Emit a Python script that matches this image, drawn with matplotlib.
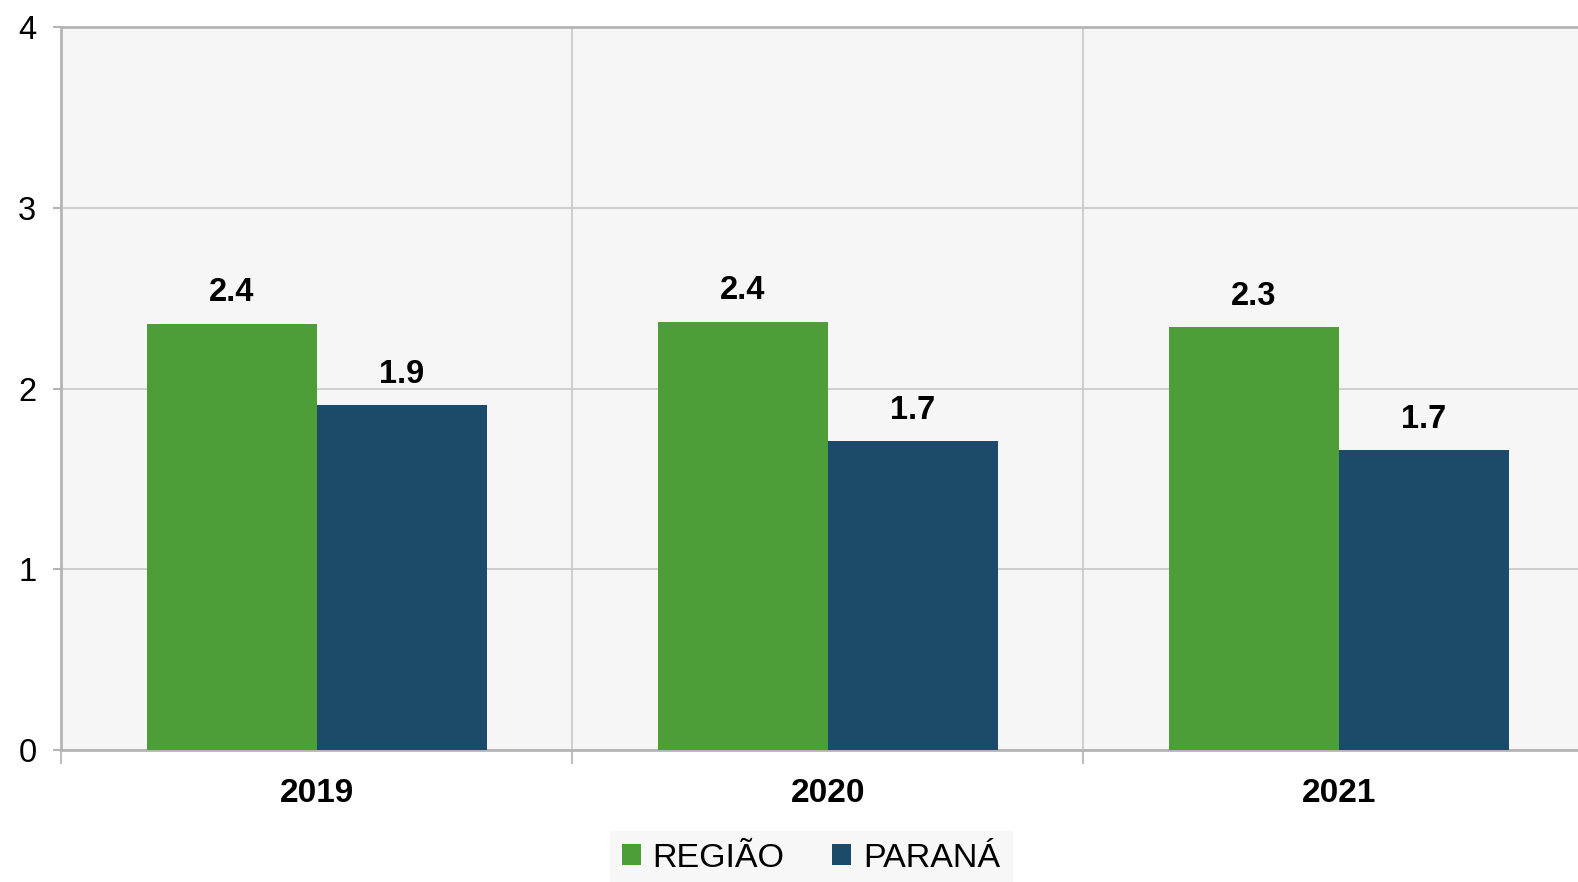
import matplotlib
matplotlib.use("Agg")
import matplotlib.pyplot as plt
import numpy as np

plt.rcParams['font.family'] = ['Liberation Sans', 'DejaVu Sans']

# data
years = ["2019", "2020", "2021"]
regiao = [2.36, 2.37, 2.34]
parana = [1.91, 1.71, 1.66]
series_names = ["REGIÃO", "PARANÁ"]
colors = ["#4d9e38", "#1c4a6b"]

fig = plt.figure(figsize=(15.78, 8.82), dpi=100)
ax = fig.add_axes([0.0389, 0.1497, 0.9611, 0.8195])
ax.set_facecolor("#f6f6f6")

x = np.arange(len(years))
w = 1 / 3
b1 = ax.bar(x - w / 2, regiao, w, color=colors[0], label=series_names[0], zorder=3)
b2 = ax.bar(x + w / 2, parana, w, color=colors[1], label=series_names[1], zorder=3)

for bars in (b1, b2):
    for rect in bars:
        h = rect.get_height()
        ax.annotate("%.1f" % h, (rect.get_x() + rect.get_width() / 2, h),
                    xytext=(0, 11), textcoords="offset points",
                    ha="center", va="bottom", fontsize=23.5, fontweight="bold")

ax.set_xlim(-0.5, 2.468)
ax.set_ylim(0, 4)
ax.set_yticks([0, 1, 2, 3, 4])
ax.tick_params(axis="y", labelsize=23.5, length=6, color="#b4b4b4", width=1.5, pad=12)

# category boundaries as ticks, year labels as minor ticks
ax.set_xticks([-0.5, 0.5, 1.5])
ax.set_xticklabels([])
ax.tick_params(axis="x", which="major", length=10, color="#c0c0c0", width=1.5)
ax.set_xticks(x, minor=True)
ax.set_xticklabels(years, minor=True, fontsize=24, fontweight="bold")
ax.tick_params(axis="x", which="minor", length=0, pad=20)

ax.grid(True, axis="y", color="#c8c8c8", lw=1.2, zorder=0)
ax.grid(True, axis="x", which="major", color="#c8c8c8", lw=1.2, zorder=0)

for side in ("left", "bottom", "top"):
    ax.spines[side].set_color("#b4b4b4")
    ax.spines[side].set_linewidth(2)
ax.spines["right"].set_visible(False)

leg = fig.legend(loc="center", bbox_to_anchor=(0.514, 0.027), ncol=2, frameon=True,
                 fontsize=24.5, handlelength=0.55, handleheight=0.55, handletextpad=0.35,
                 columnspacing=1.4, borderpad=0.35, borderaxespad=0, fancybox=False)
leg.get_frame().set_facecolor("#f6f6f6")
leg.get_frame().set_edgecolor("#f6f6f6")

fig.savefig("out.png", dpi=100)
